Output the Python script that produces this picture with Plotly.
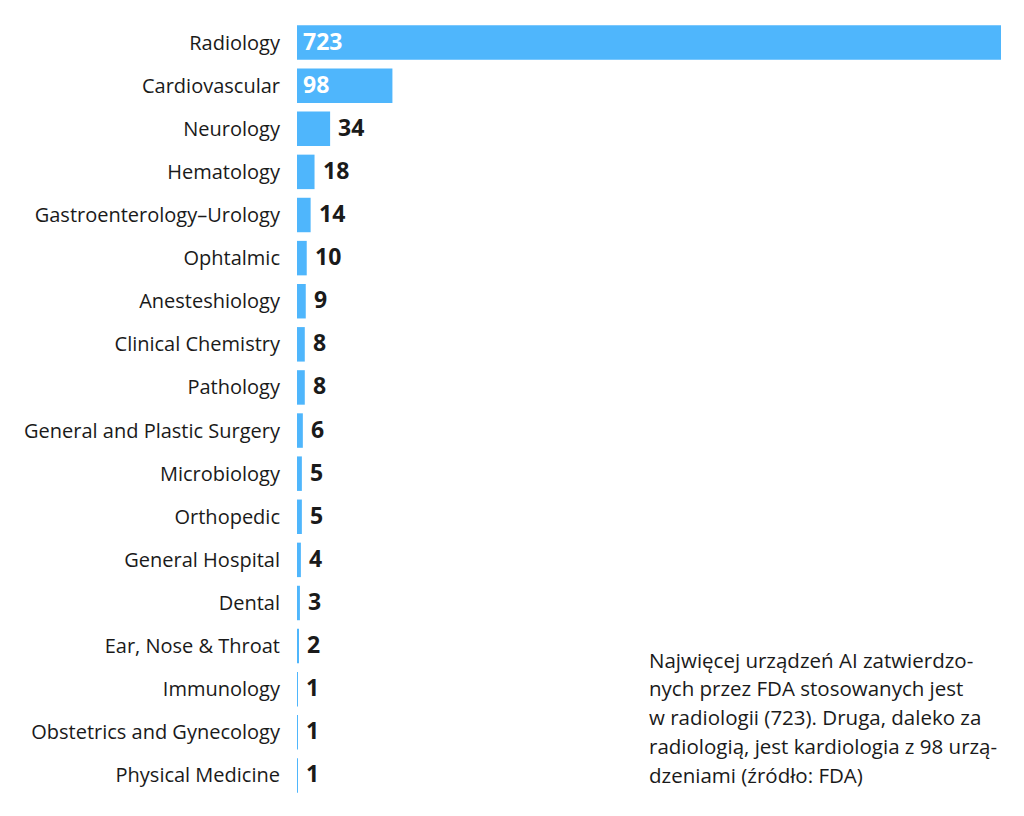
import plotly.graph_objects as go

CATEGORIES = [
    "Radiology", "Cardiovascular", "Neurology", "Hematology",
    "Gastroenterology–Urology", "Ophtalmic", "Anesteshiology",
    "Clinical Chemistry", "Pathology", "General and Plastic Surgery",
    "Microbiology", "Orthopedic", "General Hospital", "Dental",
    "Ear, Nose & Throat", "Immunology", "Obstetrics and Gynecology",
    "Physical Medicine",
]
VALUES = [723, 98, 34, 18, 14, 10, 9, 8, 8, 6, 5, 5, 4, 3, 2, 1, 1, 1]

CAPTION = [
    "Najwięcej urządzeń AI zatwierdzo-",
    "nych przez FDA stosowanych jest",
    "w radiologii (723). Druga, daleko za",
    "radiologią, jest kardiologia z 98 urzą-",
    "dzeniami (źródło: FDA)",
]

BAR = "#4fb6fc"
INK = "#1a1a1a"
FONT = "Open Sans"

# page body has an 8px margin, so the figure is a bit smaller than the window
W, H = 1016, 808
ML, MR, MT, MB = 289, 23, 13, 19
PLOT_H = H - MT - MB

fig = go.Figure(go.Bar(
    x=VALUES, y=CATEGORIES, orientation="h",
    marker=dict(color=BAR, line=dict(width=0)),
    hoverinfo="x+y",
))

# value labels: white inside for the two big bars, black after the rest
for cat, v in zip(CATEGORIES, VALUES):
    inside = v > 50
    fig.add_annotation(
        x=0 if inside else v, y=cat, text=f"<b>{v}</b>",
        xanchor="left", yanchor="middle", showarrow=False,
        xshift=4 if inside else 6, yshift=2,
        font=dict(family=FONT, size=23, color="white" if inside else INK),
    )

# caption, one line per annotation for tight control of spacing
line_px = [652, 680, 709, 738, 767]
for txt, ypx in zip(CAPTION, line_px):
    fig.add_annotation(
        x=(639 - ML) / (W - ML - MR), y=(H - MB - ypx) / PLOT_H,
        xref="paper", yref="paper", text=txt,
        xanchor="left", yanchor="middle", showarrow=False,
        font=dict(family=FONT, size=20.5, color=INK),
    )

fig.update_layout(
    width=W, height=H,
    margin=dict(l=ML, r=MR, t=MT, b=MB, pad=0),
    paper_bgcolor="white", plot_bgcolor="white",
    bargap=0.2, showlegend=False,
    font=dict(family=FONT, size=20, color=INK),
)
fig.update_xaxes(range=[0, 723], visible=False, showgrid=False)
fig.update_yaxes(autorange="reversed", showgrid=False, zeroline=False,
                 showline=False, ticks="outside", ticklen=12,
                 tickcolor="rgba(0,0,0,0)", tickfont=dict(size=20, color=INK))

fig.write_html("out.html")
